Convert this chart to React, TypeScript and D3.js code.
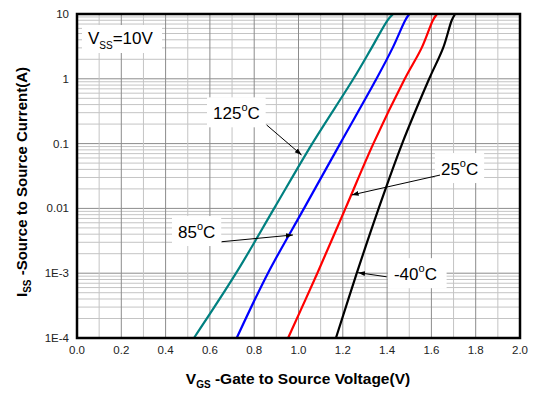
import { useMemo } from "react";
import * as d3 from "d3";

const WIDTH = 535;
const HEIGHT = 396;
const MARGIN = { top: 14, right: 15, bottom: 58, left: 77 };

// Gate-source voltage (V) vs source current (A)
const temps = ["125", "85", "25", "-40"];
const colors = ["#008080", "#0000ff", "#ff0000", "#000000"];
const currents = [1e-4, 1e-3, 1e-2, 1e-1, 1, 3, 8, 10];
const vgs125 = [0.528, 0.718, 0.89, 1.062, 1.248, 1.33, 1.402, 1.427];
const vgs85 = [0.721, 0.862, 1.025, 1.188, 1.352, 1.425, 1.482, 1.5];
const vgs25 = [0.953, 1.085, 1.212, 1.338, 1.48, 1.556, 1.607, 1.625];
const vgsM40 = [1.169, 1.263, 1.362, 1.468, 1.59, 1.653, 1.692, 1.707];
const seriesVgs = [vgs125, vgs85, vgs25, vgsM40];

const xTicks = [0, 0.2, 0.4, 0.6, 0.8, 1.0, 1.2, 1.4, 1.6, 1.8, 2.0];
const yTicks = [10, 1, 0.1, 0.01, 1e-3, 1e-4];
const yTickLabels = ["10", "1", "0.1", "0.01", "1E-3", "1E-4"];

// annotation: label start, arrow tail, arrow tip (data units)
const labelV = [0.614, 0.456, 1.643, 1.431];
const labelI = [0.237, 0.00349, 0.0327, 0.00078];
const tailV = [0.856, 0.653, 1.639, 1.398];
const tailI = [0.194, 0.00306, 0.0327, 0.00088];
const tipV = [1.014, 0.975, 1.24, 1.269];
const tipI = [0.0667, 0.00389, 0.0161, 0.00102];

const FONT = "'Liberation Sans', Arial, sans-serif";

export default function App() {
  const boundsWidth = WIDTH - MARGIN.left - MARGIN.right;
  const boundsHeight = HEIGHT - MARGIN.top - MARGIN.bottom;

  const xScale = d3.scaleLinear().domain([0, 2]).range([MARGIN.left, MARGIN.left + boundsWidth]);
  const yScale = d3
    .scaleLog()
    .domain([1e-4, 10])
    .range([MARGIN.top + boundsHeight, MARGIN.top]);

  const line = d3
    .line<[number, number]>()
    .x((d) => xScale(d[0]))
    .y((d) => yScale(d[1]))
    .curve(d3.curveCatmullRom.alpha(0.5));

  // minor / major grid
  const vGrid = d3.range(1, 20).map((i) => i / 10);
  const hGrid = useMemo(() => {
    const out: { v: number; major: boolean }[] = [];
    for (let e = -4; e < 1; e++) {
      for (let m = 1; m < 10; m++) {
        const v = m * Math.pow(10, e);
        if (m === 1 && e === -4) continue;
        out.push({ v, major: m === 1 });
      }
    }
    return out;
  }, []);

  const x0 = MARGIN.left;
  const x1 = MARGIN.left + boundsWidth;
  const y0 = MARGIN.top;
  const y1 = MARGIN.top + boundsHeight;

  return (
    <svg
      width={WIDTH}
      height={HEIGHT}
      style={{ position: "absolute", left: 0, top: 0, background: "#fff" }}
      fontFamily={FONT}
    >
      <defs>
        <marker id="arr" viewBox="0 0 10 10" refX="10" refY="5" markerWidth="7" markerHeight="7" orient="auto">
          <path d="M0,1.5 L10,5 L0,8.5 z" fill="#000" />
        </marker>
      </defs>

      {/* grid */}
      {hGrid.map((g, i) => (
        <line
          key={"h" + i}
          x1={x0}
          x2={x1}
          y1={yScale(g.v)}
          y2={yScale(g.v)}
          stroke={g.major ? "#8c8c8c" : "#c4c4c4"}
          strokeWidth={1}
        />
      ))}
      {vGrid.map((v, i) => (
        <line
          key={"v" + i}
          x1={xScale(v)}
          x2={xScale(v)}
          y1={y0}
          y2={y1}
          stroke={i % 2 === 1 ? "#8c8c8c" : "#c4c4c4"}
          strokeWidth={1}
        />
      ))}

      {/* Vss label */}
      <rect x={82} y={25} width={80} height={28} fill="#fff" />
      <text x={88} y={44} fontSize={17}>
        V
        <tspan fontSize={10} dy={5}>SS</tspan>
        <tspan dy={-5}>=10V</tspan>
      </text>

      {/* curves */}
      {seriesVgs.map((vs, i) => (
        <path
          key={temps[i]}
          d={line(vs.map((v, j) => [v, currents[j]] as [number, number])) || ""}
          fill="none"
          stroke={colors[i]}
          strokeWidth={2.2}
        />
      ))}

      {/* temperature annotations */}
      {temps.map((t, i) => {
        const lx = xScale(labelV[i]);
        const ly = yScale(labelI[i]);
        const w = t.length * 9.45 + 6 + 12.3;
        return (
          <g key={"a" + i}>
            <rect x={lx - 6} y={ly - 22} width={w + 12} height={30} fill="#fff" />
            <text x={lx} y={ly} fontSize={17}>
              {t}
              <tspan fontSize={11} dy={-8}>o</tspan>
              <tspan dy={8}>C</tspan>
            </text>
            <line
              x1={xScale(tailV[i])}
              y1={yScale(tailI[i])}
              x2={xScale(tipV[i])}
              y2={yScale(tipI[i])}
              stroke="#000"
              strokeWidth={1}
              markerEnd="url(#arr)"
            />
          </g>
        );
      })}

      {/* frame */}
      <rect x={x0} y={y0} width={boundsWidth} height={boundsHeight} fill="none" stroke="#000" strokeWidth={2.5} />

      {/* ticks */}
      {xTicks.map((t) => (
        <text key={"xt" + t} x={xScale(t)} y={y1 + 16} fontSize={11.5} textAnchor="middle" fill="#222">
          {t.toFixed(1)}
        </text>
      ))}
      {yTicks.map((t, i) => (
        <text key={"yt" + t} x={x0 - 8} y={yScale(t) + 4} fontSize={11.5} textAnchor="end" fill="#222">
          {yTickLabels[i]}
        </text>
      ))}

      {/* axis titles */}
      <text x={298} y={384} fontSize={15.5} fontWeight="bold" textAnchor="middle">
        V
        <tspan fontSize={10} dy={4}>GS</tspan>
        <tspan dy={-4}> -Gate to Source Voltage(V)</tspan>
      </text>
      <text
        transform={`translate(27,${(y0 + y1) / 2 + 6}) rotate(-90)`}
        fontSize={15}
        fontWeight="bold"
        textAnchor="middle"
      >
        I
        <tspan fontSize={10} dy={4}>SS</tspan>
        <tspan dy={-4}> -Source to Source Current(A)</tspan>
      </text>
    </svg>
  );
}
